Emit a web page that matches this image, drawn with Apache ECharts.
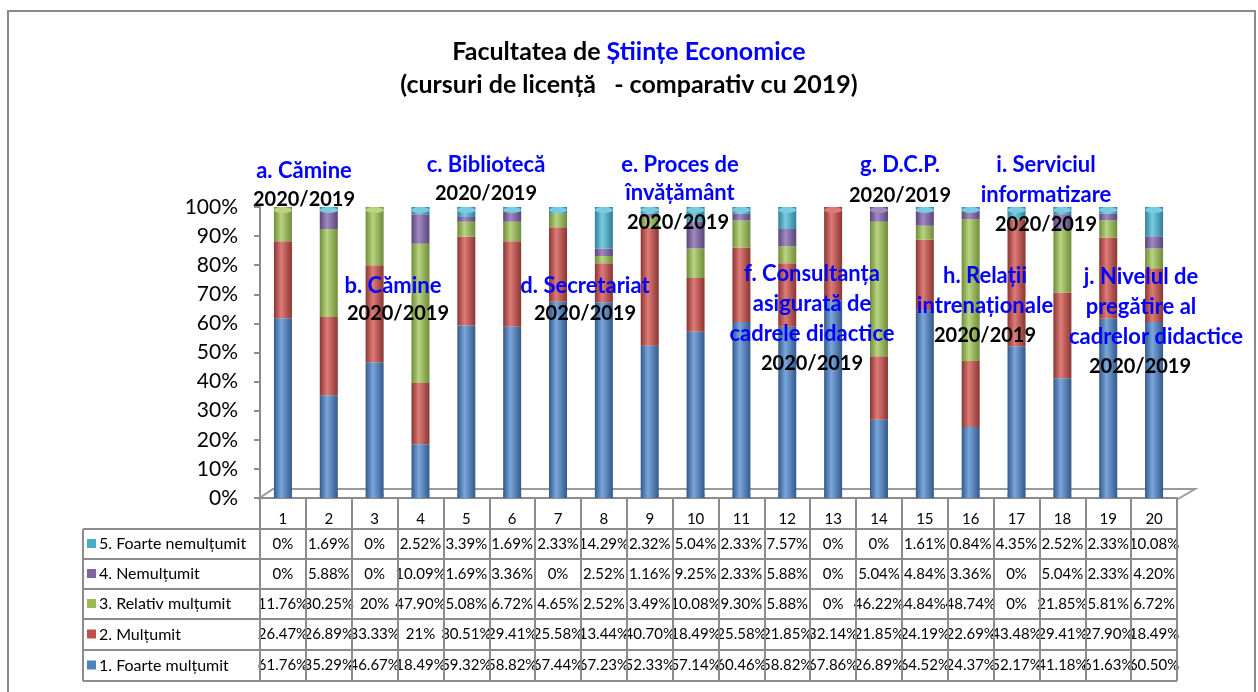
<!DOCTYPE html>
<html>
<head>
<meta charset="utf-8">
<script src="https://cdn.jsdelivr.net/npm/echarts@6/dist/echarts.min.js"></script>
<style>
html, body { margin: 0; padding: 0; background: #fff; }
#chart { width: 1258px; height: 692px; }
</style>
</head>
<body>
<div id="chart"></div>
<script>
var categories = ['1', '2', '3', '4', '5', '6', '7', '8', '9', '10', '11', '12', '13', '14', '15', '16', '17', '18', '19', '20']
var seriesNames = ['1. Foarte mulțumit', '2. Mulțumit', '3. Relativ mulțumit', '4. Nemulțumit', '5. Foarte nemulțumit']
var foarteMultumit = [61.76, 35.29, 46.67, 18.49, 59.32, 58.82, 67.44, 67.23, 52.33, 57.14, 60.46, 58.82, 67.86, 26.89, 64.52, 24.37, 52.17, 41.18, 61.63, 60.50]
var multumit = [26.47, 26.89, 33.33, 21, 30.51, 29.41, 25.58, 13.44, 40.70, 18.49, 25.58, 21.85, 32.14, 21.85, 24.19, 22.69, 43.48, 29.41, 27.90, 18.49]
var relativMultumit = [11.76, 30.25, 20, 47.90, 5.08, 6.72, 4.65, 2.52, 3.49, 10.08, 9.30, 5.88, 0, 46.22, 4.84, 48.74, 0, 21.85, 5.81, 6.72]
var nemultumit = [0, 5.88, 0, 10.09, 1.69, 3.36, 0, 2.52, 1.16, 9.25, 2.33, 5.88, 0, 5.04, 4.84, 3.36, 0, 5.04, 2.33, 4.20]
var foarteNemultumit = [0, 1.69, 0, 2.52, 3.39, 1.69, 2.33, 14.29, 2.32, 5.04, 2.33, 7.57, 0, 0, 1.61, 0.84, 4.35, 2.52, 2.33, 10.08]
// tabel: textele afisate exact ca in original
var tableLabels = [
  ['0%', '1.69%', '0%', '2.52%', '3.39%', '1.69%', '2.33%', '14.29%', '2.32%', '5.04%', '2.33%', '7.57%', '0%', '0%', '1.61%', '0.84%', '4.35%', '2.52%', '2.33%', '10.08%'],
  ['0%', '5.88%', '0%', '10.09%', '1.69%', '3.36%', '0%', '2.52%', '1.16%', '9.25%', '2.33%', '5.88%', '0%', '5.04%', '4.84%', '3.36%', '0%', '5.04%', '2.33%', '4.20%'],
  ['11.76%', '30.25%', '20%', '47.90%', '5.08%', '6.72%', '4.65%', '2.52%', '3.49%', '10.08%', '9.30%', '5.88%', '0%', '46.22%', '4.84%', '48.74%', '0%', '21.85%', '5.81%', '6.72%'],
  ['26.47%', '26.89%', '33.33%', '21%', '30.51%', '29.41%', '25.58%', '13.44%', '40.70%', '18.49%', '25.58%', '21.85%', '32.14%', '21.85%', '24.19%', '22.69%', '43.48%', '29.41%', '27.90%', '18.49%'],
  ['61.76%', '35.29%', '46.67%', '18.49%', '59.32%', '58.82%', '67.44%', '67.23%', '52.33%', '57.14%', '60.46%', '58.82%', '67.86%', '26.89%', '64.52%', '24.37%', '52.17%', '41.18%', '61.63%', '60.50%']
]
var yTicks = [0, 10, 20, 30, 40, 50, 60, 70, 80, 90, 100]

var allData = [foarteMultumit, multumit, relativMultumit, nemultumit, foarteNemultumit]
var baseColors = ['#4F81BD', '#C0504D', '#9BBB59', '#8064A2', '#4BACC6']
var lightColors = ['#7AA6DC', '#DE7B77', '#BAD47F', '#A08AC2', '#78CCE2']
var darkColors = ['#34598A', '#8A3532', '#6E8C3A', '#5A4478', '#2F7F96']
var FONT = 'Lato, "Open Sans", sans-serif'

function cyl(i) {
  return new echarts.graphic.LinearGradient(0, 0, 1, 0, [
    { offset: 0, color: darkColors[i] },
    { offset: 0.4, color: lightColors[i] },
    { offset: 1, color: darkColors[i] }
  ])
}

var totals = categories.map(function (c, j) {
  var s = 0
  allData.forEach(function (d) { s += d[j] })
  return s
})
var topIndex = categories.map(function (c, j) {
  var t = 0
  allData.forEach(function (d, i) { if (d[j] > 0) t = i })
  return t
})

var myChart = echarts.init(document.getElementById('chart'))

var series = allData.map(function (d, i) {
  return {
    name: seriesNames[i],
    type: 'bar',
    stack: 'total',
    barWidth: 18,
    data: d,
    itemStyle: { color: cyl(i) }
  }
})
// capac cilindru sus
series.push({
  type: 'pictorialBar',
  symbol: 'circle',
  symbolSize: [18, 6],
  symbolPosition: 'end',
  z: 5,
  silent: true,
  data: totals.map(function (v, j) {
    return { value: v, itemStyle: { color: lightColors[topIndex[j]] } }
  })
})
// baza rotunjita
series.push({
  type: 'pictorialBar',
  symbol: 'circle',
  symbolSize: [18, 6],
  symbolPosition: 'start',
  z: 1,
  silent: true,
  data: totals.map(function (v) {
    return { value: v, itemStyle: { color: darkColors[0] } }
  })
})

option = {
  animation: false,
  backgroundColor: '#fff',
  textStyle: { fontFamily: FONT },
  title: {
    text: '{a|Facultatea de }{b|Științe Economice}\n{a|(cursuri de licență   - comparativ cu 2019)}',
    left: 'center',
    top: 30,
    textStyle: {
      rich: {
        a: { fontSize: 25, fontWeight: 'bold', color: '#000', fontFamily: FONT, lineHeight: 33 },
        b: { fontSize: 25, fontWeight: 'bold', color: '#0000FF', fontFamily: FONT, lineHeight: 33 }
      }
    }
  },
  grid: { left: 260, right: 81, top: 207, bottom: 194 },
  xAxis: {
    type: 'category',
    data: categories,
    axisLine: { lineStyle: { color: '#8c8c8c', width: 2 } },
    axisTick: { show: true, interval: 0, length: 183, lineStyle: { color: '#8c8c8c', width: 2 } },
    axisLabel: { interval: 0, color: '#000', fontSize: 15, margin: 14, fontFamily: FONT }
  },
  yAxis: {
    type: 'value',
    min: yTicks[0],
    max: yTicks[yTicks.length - 1],
    interval: 10,
    axisLine: { show: true, lineStyle: { color: '#8c8c8c', width: 2 } },
    axisTick: { show: true, length: 6, lineStyle: { color: '#8c8c8c', width: 2 } },
    axisLabel: { formatter: '{value}%', color: '#000', fontSize: 21, margin: 22, fontFamily: FONT },
    splitLine: { show: false }
  },
  series: series
}
myChart.setOption(option)

// ---- tabel de date, podea 3D, adnotari ----
var rowY = [529, 559, 589, 619, 650, 681]
var tableLeft = 83
var tableRight = 1177
var g = []

g.push({ type: 'rect', shape: { x: 8, y: 11, width: 1247, height: 700 }, style: { fill: 'none', stroke: '#8a8a8a', lineWidth: 2 }, z: 0 })
g.push({ type: 'polyline', shape: { points: [[258, 499], [273, 489], [1195, 489], [1178, 499]] }, style: { fill: 'none', stroke: '#9a9a9a', lineWidth: 2 }, z: 0 })

rowY.forEach(function (y) {
  g.push({ type: 'line', shape: { x1: tableLeft, y1: y, x2: tableRight, y2: y }, style: { stroke: '#8c8c8c', lineWidth: 2 } })
})
g.push({ type: 'line', shape: { x1: tableLeft, y1: rowY[0], x2: tableLeft, y2: rowY[5] }, style: { stroke: '#8c8c8c', lineWidth: 2 } })

for (var r = 0; r < 5; r++) {
  var si = 4 - r
  var cy = (rowY[r] + rowY[r + 1]) / 2
  g.push({ type: 'rect', shape: { x: 87, y: cy - 5, width: 9, height: 9 }, style: { fill: baseColors[si] } })
  g.push({ type: 'text', x: 99, y: cy, style: { text: seriesNames[si], font: '16px ' + FONT, fill: '#000', verticalAlign: 'middle', textAlign: 'left' } })
  categories.forEach(function (c, j) {
    var px = myChart.convertToPixel({ xAxisIndex: 0 }, j)
    g.push({ type: 'text', x: px, y: cy, style: { text: tableLabels[r][j], font: '15px ' + FONT, fill: '#000', verticalAlign: 'middle', textAlign: 'center' } })
  })
}

var notes = [
  [304, 171, 'a. Cămine', 1], [304, 200, '2020/2019', 0],
  [393, 286, 'b. Cămine', 1], [398, 314, '2020/2019', 0],
  [486, 165, 'c. Bibliotecă', 1], [486, 194, '2020/2019', 0],
  [585, 286, 'd. Secretariat', 1], [585, 314, '2020/2019', 0],
  [680, 165, 'e. Proces de', 1], [680, 193, 'învățământ', 1], [678, 223, '2020/2019', 0],
  [812, 274, 'f. Consultanța', 1], [812, 304, 'asigurată de', 1], [812, 334, 'cadrele didactice', 1], [812, 364, '2020/2019', 0],
  [900, 165, 'g. D.C.P.', 1], [900, 196, '2020/2019', 0],
  [985, 276, 'h. Relații', 1], [985, 306, 'intrenaționale', 1], [985, 336, '2020/2019', 0],
  [1046, 165, 'i. Serviciul', 1], [1046, 195, 'informatizare', 1], [1046, 225, '2020/2019', 0],
  [1141, 277, 'j. Nivelul de', 1], [1141, 307, 'pregătire al', 1], [1156, 337, 'cadrelor didactice', 1], [1140, 367, '2020/2019', 0]
]
notes.forEach(function (n) {
  g.push({ type: 'text', x: n[0], y: n[1], z: 10, style: { text: n[2], font: (n[3] ? 'bold 22px ' : 'bold 20px ') + FONT, fill: n[3] ? '#0000FF' : '#000', textAlign: 'center', verticalAlign: 'middle' } })
})

myChart.setOption({ graphic: g })
</script>
</body>
</html>
